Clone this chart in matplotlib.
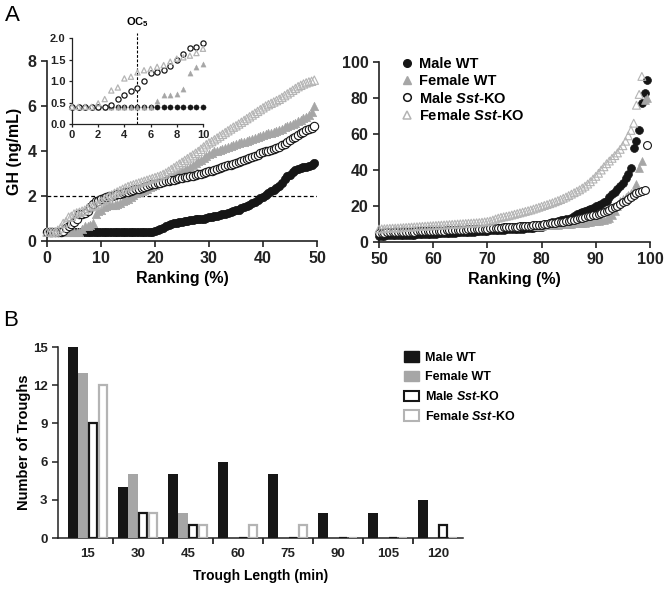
import numpy as np
import matplotlib
matplotlib.use('Agg')
import matplotlib.pyplot as plt
from matplotlib.lines import Line2D
from matplotlib.patches import Patch

# sorted GH values (ng/mL), ranked low -> high; ranking % = index / n_rank * 100
n_rank = 200

male_wt = [
    0.4, 0.4, 0.4, 0.4, 0.4, 0.4, 0.4, 0.4, 0.4, 0.4, 0.4, 0.4, 0.4, 0.4, 0.4, 0.4, 0.4, 0.4, 0.4, 0.4,
    0.4, 0.4, 0.4, 0.4, 0.4, 0.4, 0.4, 0.4, 0.4, 0.4, 0.4, 0.4, 0.4, 0.4, 0.4, 0.4, 0.4, 0.4, 0.4,
    0.42, 0.45, 0.5, 0.55, 0.6, 0.65, 0.7, 0.75, 0.78, 0.8, 0.84, 0.86, 0.88, 0.9, 0.92, 0.94, 0.96, 0.97, 0.98, 1.0,
    1.02, 1.05, 1.08, 1.1, 1.12, 1.15, 1.18, 1.2, 1.25, 1.3, 1.33, 1.36, 1.4, 1.45, 1.5, 1.55, 1.62, 1.68, 1.75, 1.82,
    1.9, 1.97, 2.05, 2.15, 2.22, 2.28, 2.35, 2.45, 2.6, 2.75, 2.88, 2.95, 3.05, 3.15, 3.2, 3.25, 3.28, 3.3, 3.35, 3.4, 3.45,
    3.5, 3.55, 3.6, 3.65, 3.7, 3.75, 3.8, 3.85, 3.9, 3.95, 4.0, 4.05, 4.1, 4.15, 4.2, 4.25, 4.3, 4.4, 4.45, 4.5,
    4.6, 4.7, 4.75, 4.8, 4.9, 5.0, 5.05, 5.1, 5.2, 5.3, 5.4, 5.5, 5.6, 5.7, 5.75, 5.8, 5.9, 6.0, 6.1, 6.2,
    6.3, 6.4, 6.5, 6.6, 6.7, 6.8, 6.9, 7.0, 7.05, 7.1, 7.2, 7.3, 7.4, 7.5, 7.6, 7.7, 7.8, 7.95, 8.1, 8.3,
    8.6, 9.3, 10.2, 10.6, 11.0, 11.3, 11.6, 12.0, 12.3, 12.7, 13.0, 13.6, 14.5, 15.3, 16.0, 16.5, 17.0, 17.6, 18.3, 19.0,
    19.8, 20.5, 21.2, 22.0, 23.0, 25.0, 26.5, 28.0, 29.5, 31.0, 33.0, 35.5, 38.0, 41.0, 52.0, 56.0, 62.0, 77.0, 83.0, 90.0]

female_wt = [
    0.4, 0.4, 0.4, 0.4, 0.4, 0.4, 0.4, 0.4, 0.4, 0.4, 0.4, 0.4, 0.4,
    0.53, 0.67, 0.68, 0.7, 0.82, 1.18, 1.32,
    1.4, 1.5, 1.55, 1.58, 1.6, 1.62, 1.65, 1.7, 1.76, 1.82, 1.88, 1.95, 2.05, 2.15, 2.2, 2.24, 2.28, 2.32, 2.38, 2.44,
    2.5, 2.56, 2.62, 2.68, 2.74, 2.8, 2.86, 2.92, 2.98, 3.04, 3.1, 3.16, 3.22, 3.3, 3.38, 3.46, 3.54, 3.62, 3.7, 3.78,
    3.86, 3.92, 3.98, 4.02, 4.06, 4.1, 4.14, 4.18, 4.22, 4.26, 4.3, 4.34, 4.38, 4.42, 4.46, 4.5, 4.54, 4.58, 4.62, 4.66,
    4.7, 4.74, 4.78, 4.82, 4.86, 4.9, 4.95, 5.0, 5.05, 5.1, 5.15, 5.2, 5.26, 5.32, 5.38, 5.45, 5.52, 5.6, 5.75, 6.0,
    6.1, 6.15, 6.2, 6.25, 6.3, 6.35, 6.4, 6.45, 6.5, 6.55, 6.6, 6.65, 6.7, 6.75, 6.8, 6.85, 6.9, 6.95, 7.0, 7.05,
    7.1, 7.15, 7.2, 7.25, 7.3, 7.35, 7.4, 7.45, 7.5, 7.55, 7.6, 7.65, 7.7, 7.75, 7.8, 7.85, 7.9, 7.95, 8.0, 8.05,
    8.1, 8.15, 8.2, 8.25, 8.3, 8.35, 8.4, 8.45, 8.5, 8.55, 8.6, 8.65, 8.7, 8.75, 8.8, 8.85, 8.9, 8.95, 9.0, 9.05,
    9.1, 9.2, 9.3, 9.4, 9.5, 9.6, 9.7, 9.8, 9.9, 10.0, 10.1, 10.2, 10.3, 10.4, 10.5, 10.6, 10.8, 11.0, 11.2, 11.4,
    11.6, 11.8, 12.0, 12.4, 12.8, 13.5, 15.0, 17.0, 20.0, 23.0, 24.0, 25.0, 26.0, 27.0, 29.0, 32.0, 41.0, 45.0, 79.0, 80.0]

male_ko = [
    0.4, 0.4, 0.4, 0.4, 0.4, 0.4,
    0.45, 0.58, 0.67, 0.76, 0.84, 1.0, 1.19, 1.22, 1.26, 1.35, 1.5, 1.63, 1.76, 1.8, 1.88,
    1.92, 1.96, 2.0, 2.02, 2.05, 2.08, 2.1, 2.13, 2.16, 2.2, 2.23, 2.26, 2.3, 2.33, 2.36, 2.4, 2.44, 2.48, 2.52, 2.55,
    2.58, 2.6, 2.63, 2.66, 2.68, 2.7, 2.73, 2.76, 2.8, 2.82, 2.84, 2.86, 2.88, 2.9, 2.93, 2.96, 3.0, 3.03, 3.06, 3.1,
    3.13, 3.16, 3.2, 3.24, 3.28, 3.32, 3.36, 3.4, 3.44, 3.48, 3.52, 3.56, 3.6, 3.64, 3.68, 3.73, 3.78, 3.84, 3.9, 3.96,
    4.0, 4.02, 4.05, 4.1, 4.15, 4.2, 4.26, 4.32, 4.4, 4.48, 4.56, 4.64, 4.72, 4.8, 4.86, 4.92, 4.98, 5.04, 5.1,
    5.15, 5.2, 5.25, 5.3, 5.35, 5.4, 5.45, 5.5, 5.55, 5.6, 5.65, 5.7, 5.75, 5.8, 5.85, 5.9, 5.95, 6.0, 6.05, 6.1,
    6.15, 6.2, 6.25, 6.3, 6.35, 6.4, 6.5, 6.55, 6.6, 6.7, 6.75, 6.8, 6.9, 7.0, 7.05, 7.1, 7.2, 7.3, 7.35, 7.4,
    7.5, 7.6, 7.7, 7.8, 7.9, 8.0, 8.1, 8.2, 8.3, 8.4, 8.5, 8.6, 8.7, 8.8, 8.9, 9.0, 9.1, 9.2, 9.4, 9.5,
    9.7, 9.9, 10.1, 10.3, 10.5, 10.7, 10.9, 11.1, 11.3, 11.5, 11.8, 12.1, 12.4, 12.8, 13.1, 13.5, 13.9, 14.2, 14.5, 14.8,
    15.1, 15.5, 16.0, 16.5, 17.2, 18.0, 18.8, 19.5, 20.2, 21.0, 22.0, 23.0, 24.0, 25.0, 26.0, 27.0, 28.0, 28.5, 29.0, 54.0]

female_ko = [
    0.4, 0.4, 0.4, 0.4,
    0.48, 0.58, 0.78, 0.85, 1.06, 1.1, 1.2, 1.25, 1.28, 1.33, 1.37, 1.45, 1.52, 1.55, 1.59, 1.65,
    1.75, 1.82, 1.9, 1.98, 2.05, 2.12, 2.18, 2.24, 2.3, 2.36, 2.42, 2.46, 2.5, 2.54, 2.58, 2.62, 2.66, 2.7, 2.74, 2.78,
    2.82, 2.86, 2.9, 2.96, 3.02, 3.1, 3.18, 3.26, 3.34, 3.42, 3.5, 3.58, 3.66, 3.74, 3.82, 3.9, 3.98, 4.08, 4.18, 4.28,
    4.36, 4.42, 4.5, 4.58, 4.66, 4.74, 4.82, 4.9, 4.98, 5.06, 5.12, 5.2, 5.28, 5.36, 5.44, 5.52, 5.6, 5.68, 5.76, 5.84,
    5.92, 6.0, 6.06, 6.12, 6.18, 6.24, 6.3, 6.38, 6.46, 6.54, 6.62, 6.7, 6.78, 6.86, 6.92, 6.98, 7.03, 7.07, 7.1, 7.15,
    7.2, 7.3, 7.4, 7.5, 7.6, 7.7, 7.75, 7.8, 7.9, 8.0, 8.1, 8.2, 8.3, 8.4, 8.5, 8.6, 8.7, 8.8, 8.9, 9.0,
    9.1, 9.2, 9.3, 9.4, 9.5, 9.6, 9.7, 9.8, 9.9, 10.0, 10.1, 10.2, 10.3, 10.4, 10.5, 10.6, 10.7, 10.8, 11.0, 11.2,
    11.4, 11.7, 12.2, 12.8, 13.3, 13.7, 14.0, 14.3, 14.6, 15.0, 15.4, 15.8, 16.2, 16.6, 17.0, 17.4, 17.8, 18.3, 18.8, 19.3,
    19.8, 20.3, 20.8, 21.3, 21.8, 22.4, 23.0, 23.6, 24.3, 25.0, 25.8, 26.6, 27.4, 28.2, 29.0, 30.0, 31.0, 32.2, 33.5, 35.0,
    36.5, 38.2, 40.0, 41.8, 43.5, 45.0, 46.5, 48.0, 49.5, 51.5, 53.5, 56.0, 59.0, 62.0, 66.0, 76.0, 82.0, 92.0]

# panel B: trough counts per trough length
trough_len = ['15', '30', '45', '60', '75', '90', '105', '120']
tr_male_wt = [15, 4, 5, 6, 5, 2, 2, 3]
tr_female_wt = [13, 5, 2, 0, 0, 0, 0, 0]
tr_male_ko = [9, 2, 1, 0, 0, 0, 0, 1]
tr_female_ko = [12, 2, 1, 1, 1, 0, 0, 0]

plt.rcParams['font.family'] = ['Liberation Sans', 'DejaVu Sans']
plt.rcParams['font.weight'] = 'bold'
plt.rcParams['axes.labelweight'] = 'bold'
plt.rcParams['mathtext.fontset'] = 'custom'
plt.rcParams['mathtext.rm'] = 'Liberation Sans:bold'
plt.rcParams['mathtext.it'] = 'Liberation Sans:italic:bold'
plt.rcParams['mathtext.bf'] = 'Liberation Sans:bold'

BLACK = '#161616'
GRAY = '#a6a6a6'
LGRAY = '#b4b4b4'

series = [
    (male_wt, dict(marker='o', facecolors=BLACK, edgecolors=BLACK, linewidths=0.5)),
    (female_wt, dict(marker='^', facecolors=GRAY, edgecolors=GRAY, linewidths=0.5)),
    (male_ko, dict(marker='o', facecolors='white', edgecolors=BLACK, linewidths=0.8)),
    (female_ko, dict(marker='^', facecolors='none', edgecolors=LGRAY, linewidths=0.8)),
]


def style_axes(ax, lw=1.2):
    for s in ['top', 'right']:
        ax.spines[s].set_visible(False)
    for s in ['left', 'bottom']:
        ax.spines[s].set_linewidth(lw)
        ax.spines[s].set_color('#222222')
    ax.tick_params(direction='out', width=lw, length=4, colors='#222222')


fig = plt.figure(figsize=(6.64, 5.9), dpi=100)

# ---- A left: 0-50 %
ax1 = fig.add_axes([0.0708, 0.5915, 0.4066, 0.3051])
for vals, kw in series:
    v = np.array(vals)
    x = np.arange(len(v)) / n_rank * 100
    m = x < 50
    ax1.scatter(x[m], v[m], s=36, clip_on=False, zorder=3, **kw)
ax1.axhline(2, color='k', lw=0.9, ls=(0, (3, 2)), zorder=1)
ax1.set_xlim(0, 50)
ax1.set_ylim(0, 8)
ax1.set_xticks(range(0, 51, 10))
ax1.set_yticks(range(0, 9, 2))
ax1.set_xlabel('Ranking (%)', fontsize=11.5, labelpad=3)
ax1.set_ylabel('GH (ng/mL)', fontsize=11.5, labelpad=4)
style_axes(ax1)
ax1.tick_params(labelsize=11.5)

# ---- inset: 0-10 %
axi = fig.add_axes([0.1084, 0.7898, 0.1973, 0.1458])
for vals, kw in series:
    v = np.array(vals)
    x = np.arange(len(v)) / n_rank * 100
    m = x <= 10
    kw2 = dict(kw)
    kw2['linewidths'] = 0.9 if kw['facecolors'] in ('white', 'none') else 0.3
    axi.scatter(x[m], v[m], s=14, clip_on=False, zorder=3, **kw2)
axi.plot([5, 5], [0, 2.12], color='k', lw=0.8, ls=(0, (2.5, 1.5)), clip_on=False, zorder=2)
axi.text(5, 2.2, r'OC$_{\mathbf{5}}$', ha='center', va='bottom', fontsize=8)
axi.set_xlim(0, 10)
axi.set_ylim(0, 2)
axi.set_xticks(range(0, 11, 2))
axi.set_yticks([0, 0.5, 1.0, 1.5, 2.0])
axi.set_yticklabels(['0.0', '0.5', '1.0', '1.5', '2.0'])
style_axes(axi, lw=0.9)
axi.tick_params(labelsize=8, length=2.5, pad=2)
axi.patch.set_alpha(0)

# ---- A right: 50-100 %
ax2 = fig.add_axes([0.5708, 0.5898, 0.4081, 0.3051])
for vals, kw in series:
    v = np.array(vals)
    x = np.arange(len(v)) / n_rank * 100
    m = x >= 50
    ax2.scatter(x[m], v[m], s=32, clip_on=False, zorder=3, **kw)
ax2.set_xlim(50, 100)
ax2.set_ylim(0, 100)
ax2.set_xticks(range(50, 101, 10))
ax2.set_yticks(range(0, 101, 20))
ax2.set_xlabel('Ranking (%)', fontsize=11.5, labelpad=3)
style_axes(ax2)
ax2.tick_params(labelsize=11.5)

handles = [
    Line2D([], [], ls='', marker='o', ms=5.5, mfc=BLACK, mec=BLACK),
    Line2D([], [], ls='', marker='^', ms=6, mfc=GRAY, mec=GRAY),
    Line2D([], [], ls='', marker='o', ms=5.5, mfc='white', mec=BLACK, mew=1.1),
    Line2D([], [], ls='', marker='^', ms=6, mfc='white', mec=LGRAY, mew=1.1),
]
labels = ['Male WT', 'Female WT', r'Male $\mathit{Sst}$-KO', r'Female $\mathit{Sst}$-KO']
ax2.legend(handles, labels, loc='upper left', bbox_to_anchor=(392 / 664, 1 - 50 / 590),
           bbox_transform=fig.transFigure, frameon=False, handlelength=1.0,
           handletextpad=0.35, labelspacing=0.18, borderpad=0, prop={'size': 10.5, 'weight': 'bold'})

# ---- B: trough histogram
ax3 = fig.add_axes([0.0873, 0.0881, 0.61, 0.3237])
xs = np.arange(len(trough_len))
ax3.bar(xs - 0.3, tr_male_wt, width=0.2, color=BLACK, zorder=3)
ax3.bar(xs - 0.1, tr_female_wt, width=0.2, color=GRAY, zorder=3)
ax3.bar(xs + 0.1, tr_male_ko, width=0.16, color='white', edgecolor=BLACK, linewidth=1.6, zorder=3)
ax3.bar(xs + 0.3, tr_female_ko, width=0.16, color='white', edgecolor=LGRAY, linewidth=1.6, zorder=3)
ax3.set_xlim(-0.6, 7.5)
ax3.set_ylim(0, 15)
ax3.set_yticks(range(0, 16, 3))
ax3.set_xticks(xs)
ax3.set_xticklabels(trough_len)
ax3.set_xticks(xs[:-1] + 0.5, minor=True)
style_axes(ax3, lw=1.1)
ax3.tick_params(axis='both', which='major', labelsize=9.5)
ax3.tick_params(axis='x', which='major', length=0, pad=7)
ax3.tick_params(axis='x', which='minor', direction='out', length=4, width=1.1)
ax3.set_xlabel('Trough Length (min)', fontsize=10, labelpad=7)
ax3.set_ylabel('Number of Troughs', fontsize=10.5, labelpad=1)

bh = [
    Patch(facecolor=BLACK, edgecolor=BLACK),
    Patch(facecolor=GRAY, edgecolor=GRAY),
    Patch(facecolor='white', edgecolor=BLACK, linewidth=1.5),
    Patch(facecolor='white', edgecolor=LGRAY, linewidth=1.5),
]
fig.legend(bh, labels, loc='upper left', bbox_to_anchor=(398 / 664, 1 - 345 / 590),
           frameon=False, handlelength=1.2, handleheight=0.9, handletextpad=0.45,
           labelspacing=0.55, borderpad=0, prop={'size': 9, 'weight': 'bold'})

fig.text(5 / 664, 1 - 5 / 590, 'A', fontsize=16, fontweight='normal', va='top', ha='left')
fig.text(3 / 664, 1 - 310 / 590, 'B', fontsize=16, fontweight='normal', va='top', ha='left')

fig.savefig('out.png', dpi=100)
